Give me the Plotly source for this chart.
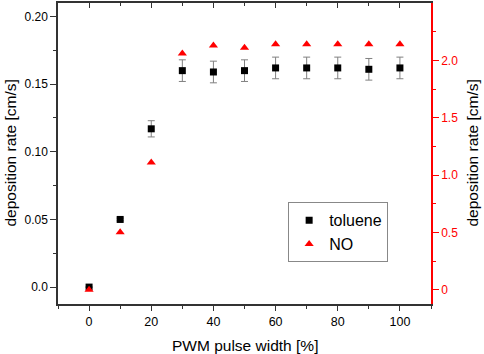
import plotly.graph_objects as go

pwm = [0, 10, 20, 30, 40, 50, 60, 70, 80, 90, 100]
toluene = [0.0, 0.050, 0.117, 0.160, 0.159, 0.160, 0.162, 0.162, 0.162, 0.161, 0.162]
toluene_err = [0.0, 0.001, 0.006, 0.008, 0.008, 0.008, 0.008, 0.008, 0.008, 0.008, 0.008]
no_rate = [0.0, 0.50, 1.11, 2.06, 2.13, 2.11, 2.14, 2.14, 2.14, 2.14, 2.14]

left_tickvals = [0.0, 0.05, 0.10, 0.15, 0.20]
left_ticktext = ["0.0", "0.05", "0.10", "0.15", "0.20"]
right_tickvals = [0, 0.5, 1.0, 1.5, 2.0]
right_ticktext = ["0", "0.5", "1.0", "1.5", "2.0"]
x_tickvals = [0, 20, 40, 60, 80, 100]

FONT = "Liberation Sans, Arial, sans-serif"
AX = "#333333"

fig = go.Figure()
fig.add_trace(go.Scatter(
    x=pwm, y=toluene, mode="markers", name="toluene",
    marker=dict(symbol="square", size=7, color="black"),
    error_y=dict(type="data", array=toluene_err, color="#808080", thickness=1, width=3.5),
    yaxis="y", xaxis="x"))
fig.add_trace(go.Scatter(
    x=pwm, y=no_rate, mode="markers", name="NO",
    marker=dict(symbol="triangle-up", size=8, color="red"),
    yaxis="y2", xaxis="x"))
fig.add_trace(go.Scatter(x=[pwm[0]], y=[toluene[0]], mode="markers", xaxis="x2", yaxis="y",
                         marker=dict(opacity=0), showlegend=False, hoverinfo="skip"))

fig.update_layout(
    width=484, height=354,
    margin=dict(l=58, r=53, t=3, b=50),
    paper_bgcolor="white", plot_bgcolor="white",
    font=dict(family=FONT, size=12, color="black"),
    showlegend=True,
    legend=dict(x=0.617, y=0.338, xanchor="left", yanchor="top",
                bordercolor="#888888", borderwidth=1, bgcolor="white",
                font=dict(size=16, family=FONT), itemwidth=30, tracegroupgap=0),
    xaxis=dict(range=[-10, 110], tickvals=x_tickvals, ticks="outside", ticklen=5,
               tickcolor=AX, showline=True, linecolor=AX, linewidth=1.5,
               showgrid=False, zeroline=False, automargin=False,
               minor=dict(ticks="outside", dtick=10, ticklen=3, tickcolor=AX),
               tickfont=dict(size=12.5)),
    xaxis2=dict(range=[-10, 110], overlaying="x", side="top", anchor="y",
                tickvals=x_tickvals, ticks="inside", ticklen=5, tickcolor=AX,
                showline=True, linecolor=AX, linewidth=1.5, showticklabels=False,
                showgrid=False, zeroline=False, automargin=False,
                minor=dict(ticks="inside", dtick=10, ticklen=3, tickcolor=AX)),
    yaxis=dict(range=[-0.0125, 0.21], tickvals=left_tickvals, ticktext=left_ticktext,
               ticks="outside", ticklen=6, tickcolor=AX, showline=True, linecolor=AX,
               linewidth=1.5, showgrid=False, zeroline=False, automargin=False,
               minor=dict(ticks="outside", tickvals=[0.025, 0.075, 0.125, 0.175], ticklen=3, tickcolor=AX),
               tickfont=dict(size=12)),
    yaxis2=dict(range=[-0.125, 2.5], overlaying="y", side="right", anchor="x",
                tickvals=right_tickvals, ticktext=right_ticktext,
                ticks="outside", ticklen=6, tickcolor="red", showline=True, linecolor="red",
                linewidth=1.5, showgrid=False, zeroline=False, automargin=False,
                minor=dict(ticks="outside", tickvals=[0.25, 0.75, 1.25, 1.75, 2.25], ticklen=3, tickcolor="red"),
                tickfont=dict(size=12, color="red")),
)

fig.add_annotation(text="PWM pulse width [%]", xref="paper", yref="paper", x=0.5, y=0,
                   yshift=-41, xanchor="center", yanchor="middle", showarrow=False,
                   font=dict(size=15.5, family=FONT, color="black"))
fig.add_annotation(text="deposition rate [cm/s]", xref="paper", yref="paper", x=0, y=0.5,
                   xshift=-48, textangle=-90, xanchor="center", yanchor="middle", showarrow=False,
                   font=dict(size=15.5, family=FONT, color="black"))
fig.add_annotation(text="deposition rate [cm/s]", xref="paper", yref="paper", x=1, y=0.5,
                   xshift=41, textangle=-90, xanchor="center", yanchor="middle", showarrow=False,
                   font=dict(size=15.5, family=FONT, color="black"))

fig.write_html("out.html", config={"displayModeBar": False},
               post_script="document.body.style.margin='0';document.body.style.padding='0';")
